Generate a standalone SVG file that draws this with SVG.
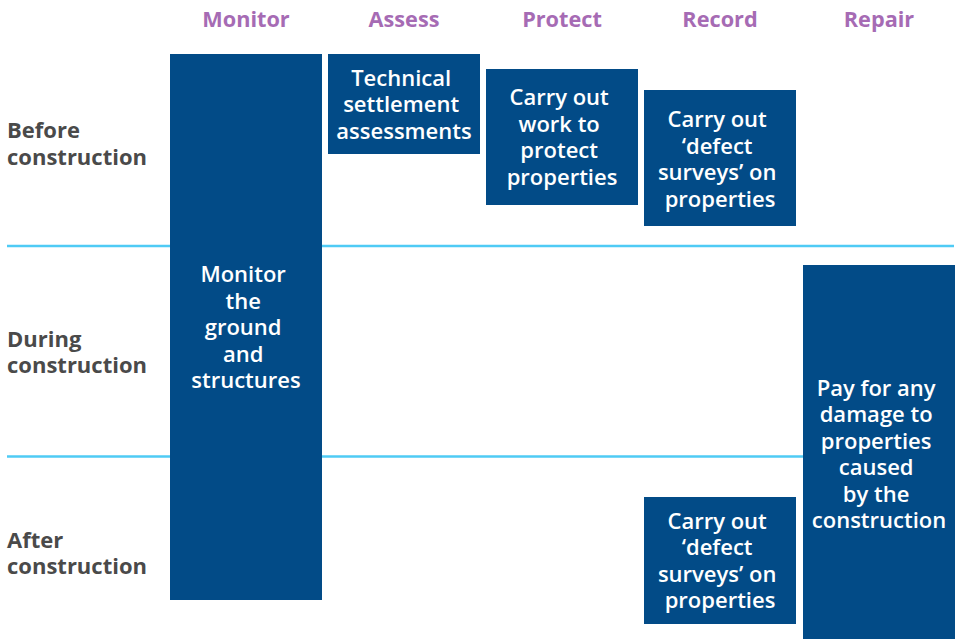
<svg xmlns="http://www.w3.org/2000/svg" width="957" height="639" viewBox="0 0 957 639">
  <style>
    .head { font-family: "Open Sans", "Noto Sans", sans-serif; font-weight: 700; font-size: 21.7px; fill: #a66bb4; text-anchor: middle; }
    .phase { font-family: "Open Sans", "Noto Sans", sans-serif; font-weight: 700; font-size: 22px; fill: #4a4a4a; }
    .box { fill: #024b87; }
    .label { font-family: "Open Sans", "Noto Sans", sans-serif; font-weight: 600; font-size: 22px; fill: #ffffff; text-anchor: middle; }
    .divider { stroke: #4fcbf5; stroke-width: 2.5; fill: none; }
  </style>

  <!-- column headings -->
  <g id="headings">
    <text class="head" x="246" y="27">Monitor</text>
    <text class="head" x="404" y="27">Assess</text>
    <text class="head" x="562" y="27">Protect</text>
    <text class="head" x="720" y="27">Record</text>
    <text class="head" x="879" y="27">Repair</text>
  </g>

  <!-- phase labels -->
  <g id="phases">
    <text class="phase" x="7" y="138">Before</text>
    <text class="phase" x="7" y="165">construction</text>
    <text class="phase" x="7" y="347">During</text>
    <text class="phase" x="7" y="373">construction</text>
    <text class="phase" x="7" y="548">After</text>
    <text class="phase" x="7" y="574">construction</text>
  </g>

  <!-- phase dividers -->
  <g id="connectors">
    <line class="divider" x1="7" y1="246" x2="954" y2="246"/>
    <line class="divider" x1="7" y1="456.5" x2="954" y2="456.5"/>
  </g>

  <g id="monitor">
    <rect class="box" x="170" y="54" width="152" height="546"/>
    <text class="label" x="246">
      <tspan x="246" y="282">Monitor</tspan>
      <tspan x="246" y="308.5">the</tspan>
      <tspan x="246" y="335">ground</tspan>
      <tspan x="246" y="361.5">and</tspan>
      <tspan x="246" y="388">structures</tspan>
    </text>
  </g>

  <g id="assess">
    <rect class="box" x="328" y="54" width="152" height="100"/>
    <text class="label">
      <tspan x="404" y="85.5">Technical</tspan>
      <tspan x="404" y="112">settlement</tspan>
      <tspan x="404" y="138.5">assessments</tspan>
    </text>
  </g>

  <g id="protect">
    <rect class="box" x="486" y="69" width="152" height="136"/>
    <text class="label">
      <tspan x="562" y="105">Carry out</tspan>
      <tspan x="562" y="131.5">work to</tspan>
      <tspan x="562" y="158">protect</tspan>
      <tspan x="562" y="184.5">properties</tspan>
    </text>
  </g>

  <g id="record-before">
    <rect class="box" x="644" y="90" width="152" height="136"/>
    <text class="label">
      <tspan x="720" y="127">Carry out</tspan>
      <tspan x="720" y="153.5">‘defect</tspan>
      <tspan x="720" y="180">surveys’ on</tspan>
      <tspan x="720" y="206.5">properties</tspan>
    </text>
  </g>

  <g id="record-after">
    <rect class="box" x="644" y="497" width="152" height="127"/>
    <text class="label">
      <tspan x="720" y="528.5">Carry out</tspan>
      <tspan x="720" y="555">‘defect</tspan>
      <tspan x="720" y="581.5">surveys’ on</tspan>
      <tspan x="720" y="608">properties</tspan>
    </text>
  </g>

  <g id="repair">
    <rect class="box" x="803" y="265" width="152" height="374"/>
    <text class="label">
      <tspan x="879" y="395.5">Pay for any</tspan>
      <tspan x="879" y="422">damage to</tspan>
      <tspan x="879" y="448.5">properties</tspan>
      <tspan x="879" y="475">caused</tspan>
      <tspan x="879" y="501.5">by the</tspan>
      <tspan x="879" y="528">construction</tspan>
    </text>
  </g>
</svg>
